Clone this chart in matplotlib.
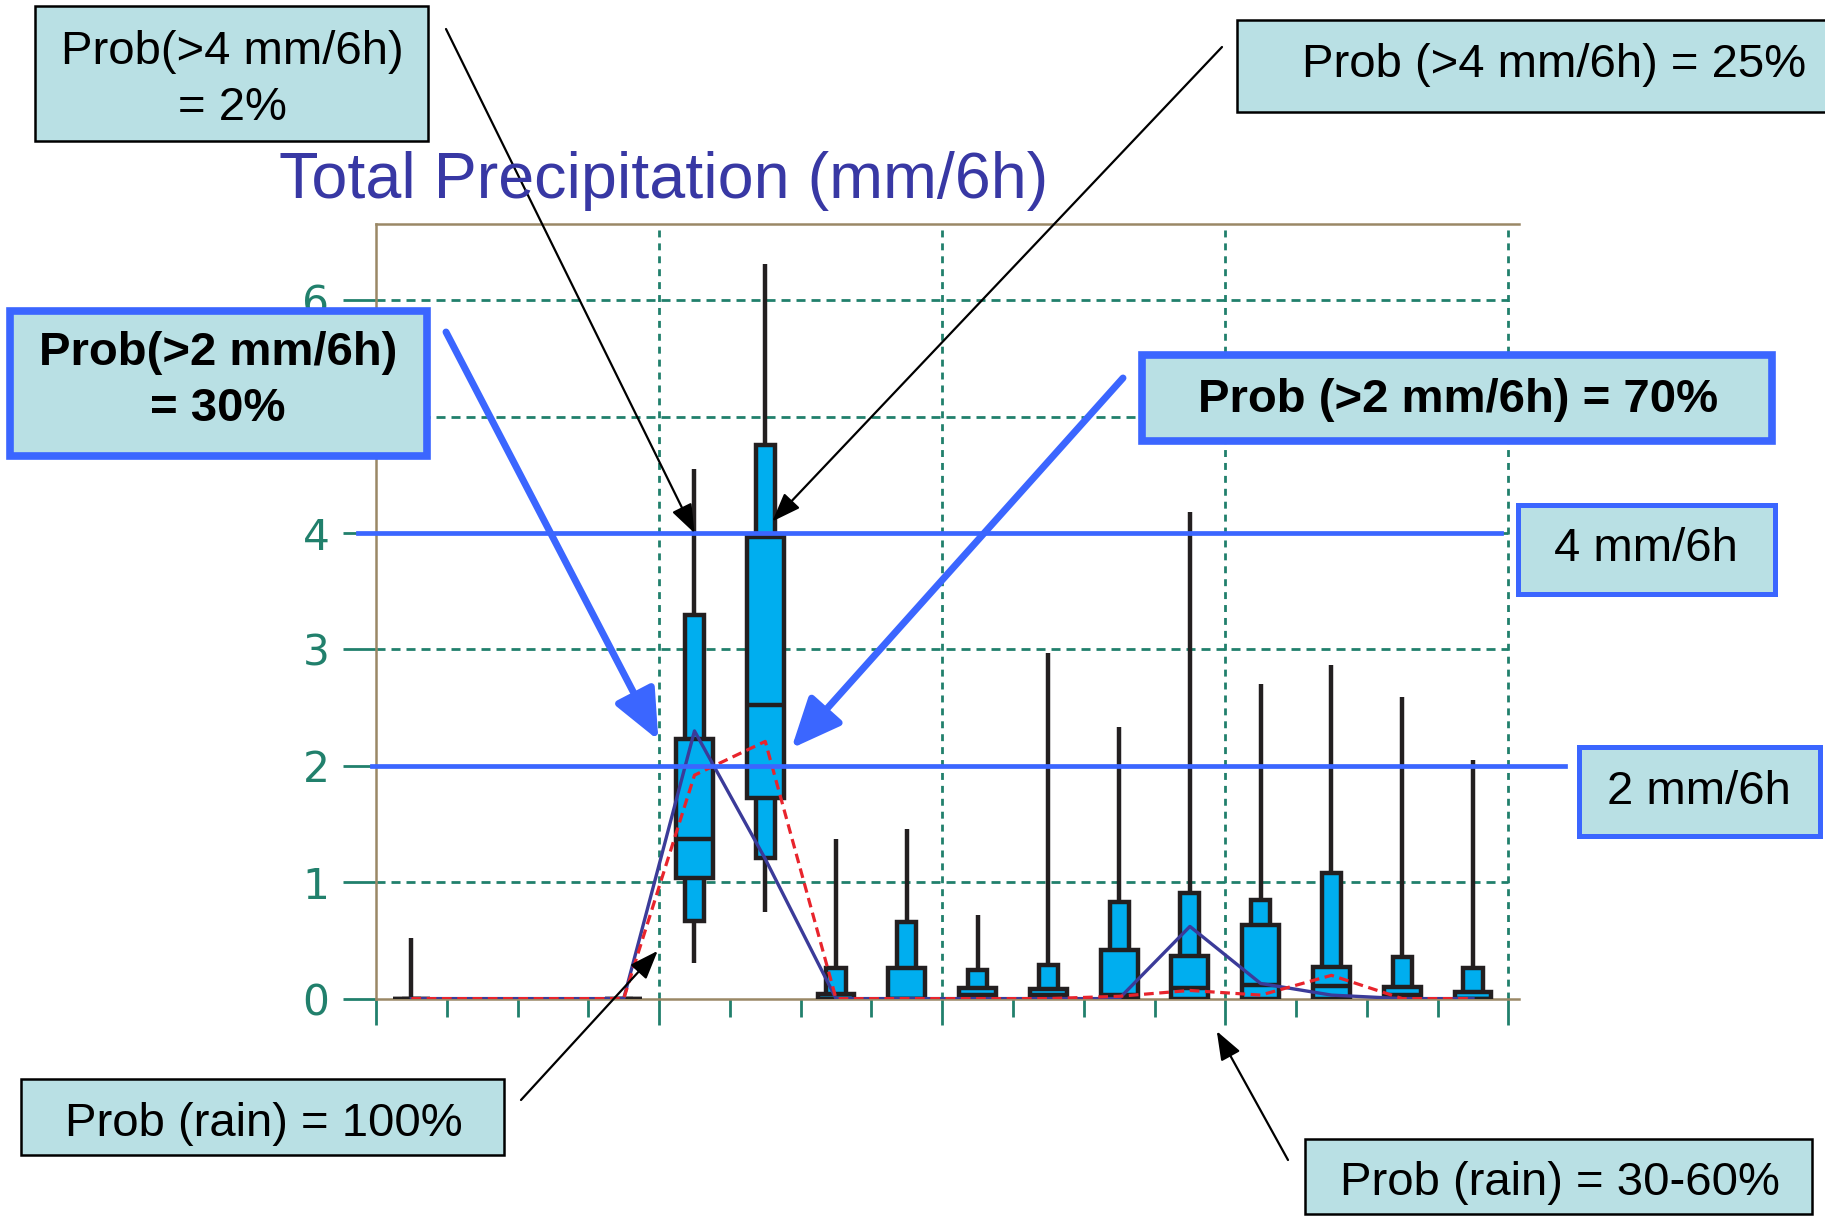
import matplotlib
matplotlib.use("Agg")
import matplotlib.pyplot as plt
from matplotlib.patches import Rectangle

plt.rcParams['lines.scale_dashes'] = False

W, H = 1825, 1218
DPI = 100

# Ensemble spread of 6-hourly precipitation (mm/6h) for each plotted step
steps = [0, 3, 4, 5, 6, 7, 8, 9, 10, 11, 12, 13, 14, 15]
q_min = [0, 0, 0.31, 0.74, 0, 0, 0, 0, 0, 0, 0, 0, 0, 0]
q_p10 = [0, 0, 0.67, 1.21, 0, 0, 0, 0, 0, 0, 0, 0, 0, 0]
q_p25 = [0, 0, 1.04, 1.72, 0, 0, 0, 0, 0, 0, 0, 0, 0, 0]
q_med = [0, 0, 1.37, 2.52, 0, 0, 0.03, 0.03, 0.03, 0.09, 0.12, 0.105, 0.035, 0]
q_p75 = [0, 0, 2.23, 3.97, 0.04, 0.265, 0.09, 0.085, 0.42, 0.37, 0.63, 0.27, 0.10, 0.054]
q_p90 = [0, 0, 3.30, 4.76, 0.26, 0.66, 0.25, 0.29, 0.83, 0.91, 0.85, 1.08, 0.355, 0.265]
q_max = [0.52, 0, 4.55, 6.31, 1.37, 1.46, 0.72, 2.97, 2.33, 4.18, 2.70, 2.87, 2.59, 2.05]

# Single forecasts at every step
all_steps = list(range(16))
hres = [0, 0, 0, 0, 2.30, 1.20, 0, 0, 0, 0, 0, 0.62, 0.13, 0.03, 0, 0]
control = [0, 0, 0, 0, 1.92, 2.21, 0, 0, 0, 0, 0.02, 0.07, 0.03, 0.20, 0, 0]

thresholds = [2, 4]
y_ticks = [0, 1, 2, 3, 4, 5, 6]
# the "5" label sits behind the left callout, so it is left blank
y_labels = ['0', '1', '2', '3', '4', '', '6']

TEAL = '#21806c'
KHAKI = '#9a8866'
CYAN = '#00aeef'
EDGE = '#231f20'
NAVY = '#3b3b99'
RED = '#e8242c'
BLUE = '#3b66ff'
FILL = '#b9e0e4'
TITLE = '#3838a4'
SANS = ['Liberation Sans', 'DejaVu Sans']

fig = plt.figure(figsize=(W / DPI, H / DPI), dpi=DPI)
fig.patch.set_facecolor('white')


def fx(x):
    return x / W


def fy(y):
    return (H - y) / H


ax = fig.add_axes([fx(376), fy(998.6), (1519 - 376) / W, (998.6 - 223.5) / H])
ax.set_xlim(0, 16.15)
ax.set_ylim(0, 6.66)

for s in ['left', 'top', 'bottom']:
    ax.spines[s].set_color(KHAKI)
    ax.spines[s].set_linewidth(1.8)
ax.spines['right'].set_visible(False)

ax.set_xticks(range(0, 17, 4))
ax.set_xticks(range(17), minor=True)
ax.tick_params(axis='x', which='major', direction='out', length=19, width=2.0,
               color=TEAL, labelbottom=False)
ax.tick_params(axis='x', which='minor', direction='out', length=13, width=2.0,
               color=TEAL)
ax.set_yticks(y_ticks, labels=y_labels)
ax.tick_params(axis='y', direction='out', length=23.5, width=2.0, color=TEAL,
               labelcolor=TEAL, labelsize=30.5, pad=10)

# dashed grid
for yv in y_ticks[1:]:
    ax.plot([0, 16], [yv, yv], color=TEAL, lw=2.0, linestyle=(0, (6.5, 4.3)), zorder=1)
for xv in range(4, 17, 4):
    ax.plot([xv, xv], [0, 6.66], color=TEAL, lw=2.0, linestyle=(0, (5, 4.3)), zorder=1)

# box-and-whisker glyphs
WIDE, NARROW = 0.52, 0.27
LW_BOX = 3.2
for i, st in enumerate(steps):
    c = st + 0.5
    ax.plot([c, c], [q_min[i], q_max[i]], color=EDGE, lw=LW_BOX, zorder=3,
            solid_capstyle='butt')
    ax.add_patch(Rectangle((c - NARROW / 2, q_p10[i]), NARROW, q_p90[i] - q_p10[i],
                           facecolor=CYAN, edgecolor=EDGE, lw=LW_BOX, zorder=4))
    ax.add_patch(Rectangle((c - WIDE / 2, q_p25[i]), WIDE, q_p75[i] - q_p25[i],
                           facecolor=CYAN, edgecolor=EDGE, lw=LW_BOX, zorder=5))
    ax.plot([c - WIDE / 2, c + WIDE / 2], [q_med[i], q_med[i]], color=EDGE, lw=LW_BOX,
            zorder=6, solid_capstyle='butt')

xs = [s + 0.5 for s in all_steps]
ax.plot(xs, hres, color=NAVY, lw=2.4, zorder=7)
ax.plot(xs, control, color=RED, lw=2.3, linestyle=(0, (7, 4)), zorder=7)

# threshold lines
ax.plot([-0.25, 15.9], [thresholds[1], thresholds[1]], color=BLUE, lw=3.4,
        zorder=8, clip_on=False)
ax.plot([-0.05, 16.8], [thresholds[0], thresholds[0]], color=BLUE, lw=3.4,
        zorder=8, clip_on=False)

fig.text(fx(664), fy(198), 'Total Precipitation (mm/6h)', color=TITLE,
         fontsize=46.5, family=SANS, ha='center', va='baseline')


def callout(x0, y0, x1, y1, text, cx, cy, edge, lw, bold=False):
    fig.patches.append(Rectangle((fx(x0), fy(y1)), (x1 - x0) / W, (y1 - y0) / H,
                                 transform=fig.transFigure, facecolor=FILL,
                                 edgecolor=edge, lw=lw, zorder=10))
    fig.text(fx(cx), fy(cy), text, fontsize=34, family=SANS, ha='center',
             va='center', weight='bold' if bold else 'normal', zorder=11,
             linespacing=1.36)


callout(35, 6, 428, 141, 'Prob(>4 mm/6h)\n= 2%', 232, 80, 'black', 1.8)
callout(1237, 20, 1860, 112, 'Prob (>4 mm/6h) = 25%', 1554, 65, 'black', 1.8)
callout(10, 311, 427, 456, 'Prob(>2 mm/6h)\n= 30%', 218, 381, BLUE, 5.5, bold=True)
callout(1142, 355, 1772, 441, 'Prob (>2 mm/6h) = 70%', 1458, 400, BLUE, 5.5, bold=True)
callout(1518, 505, 1775, 594, '4 mm/6h', 1646, 549, BLUE, 3.6)
callout(1579, 747, 1820, 836, '2 mm/6h', 1699, 792, BLUE, 3.6)
callout(21, 1079, 504, 1155, 'Prob (rain) = 100%', 264, 1124, 'black', 1.8)
callout(1305, 1139, 1812, 1214, 'Prob (rain) = 30-60%', 1560, 1183, 'black', 1.8)


def pointer(tip, start, color, lw, scale, style):
    ax.annotate('', xy=tip, xycoords='data', xytext=(start[0], H - start[1]),
                textcoords='figure pixels', annotation_clip=False,
                arrowprops=dict(arrowstyle=style, color=color, lw=lw,
                                mutation_scale=scale, shrinkA=0, shrinkB=0),
                zorder=9)


thin = '-|>,head_length=0.8,head_width=0.3'
thick = '-|>,head_length=0.8,head_width=0.35'
pointer((4.5, thresholds[1]), (446, 29), 'black', 1.6, 22, thin)
pointer((5.6, 4.1), (1222, 47), 'black', 1.6, 22, thin)
pointer((3.99, 2.22), (446, 332), BLUE, 5.0, 38, thick)
pointer((5.87, 2.15), (1123, 378), BLUE, 5.0, 38, thick)
pointer((3.98, 0.41), (521, 1100), 'black', 1.6, 22, thin)
pointer((11.88, -0.28), (1288, 1160), 'black', 1.6, 22, thin)

fig.savefig('out.png', dpi=DPI, facecolor='white')
